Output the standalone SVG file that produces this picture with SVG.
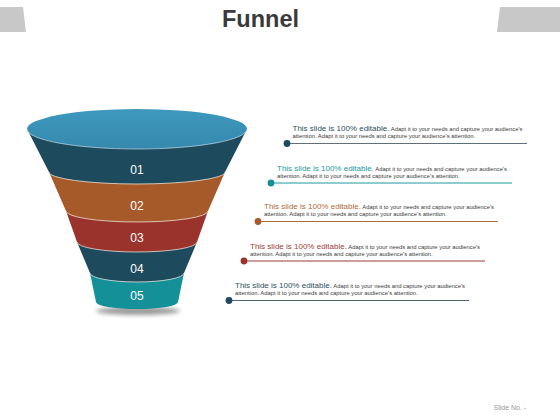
<svg xmlns="http://www.w3.org/2000/svg" width="560" height="420" viewBox="0 0 560 420">
<style>
text{font-family:"Liberation Sans",Arial,sans-serif}
.num{fill:#fff;font-size:12px;text-anchor:middle}
.sep{fill:none;stroke:#f2e6dc;stroke-width:0.9;stroke-opacity:0.85}
.head{font-size:8px}
.small{font-size:5.85px;fill:#3a3a3a}
.lead{stroke-width:1;fill:none}
</style>
<defs>
<filter id="blur" x="-50%" y="-200%" width="200%" height="500%"><feGaussianBlur stdDeviation="2"/></filter>
<linearGradient id="topg" x1="0" y1="0" x2="0" y2="1"><stop offset="0" stop-color="#3e98bd"/><stop offset="1" stop-color="#3589ae"/></linearGradient>
</defs>
<rect width="560" height="420" fill="#fff"/>
<g id="header">
<polygon points="0,7 23,7 26,32 0,32" fill="#c8c8c8"/>
<polygon points="500,7 560,7 560,32 497,32" fill="#c8c8c8"/>
<text x="260.5" y="27" font-size="23.5" font-weight="bold" fill="#3a3a3a" text-anchor="middle">Funnel</text>
</g>
<g id="funnel">
<ellipse cx="138" cy="311" rx="42" ry="4" fill="#9a9a9a" filter="url(#blur)"/>
<g id="band5"><path d="M90,273 L184,273 L178,302 A41,7 0 0 1 96,302 Z" fill="#149099"/><text class="num" x="137" y="300">05</text></g>
<g id="band4"><path d="M77,242 L197,242 L184,273 A47,9 0 0 1 90,273 Z" fill="#1d4a5c"/><path class="sep" d="M184,273 A47,9 0 0 1 90,273"/><text class="num" x="137" y="273">04</text></g>
<g id="band3"><path d="M66,211 L208,211 L197,242 A60,10 0 0 1 77,242 Z" fill="#9a332b"/><path class="sep" d="M197,242 A60,10 0 0 1 77,242"/><text class="num" x="137" y="242">03</text></g>
<g id="band2"><path d="M49,172 L225,172 L208,211 A71,11 0 0 1 66,211 Z" fill="#a65a2a"/><path class="sep" d="M208,211 A71,11 0 0 1 66,211"/><text class="num" x="137" y="210">02</text></g>
<g id="band1"><path d="M27,129 L247,129 L225,172 A88,12 0 0 1 49,172 Z" fill="#1d4a5c"/><path class="sep" d="M225,172 A88,12 0 0 1 49,172"/><text class="num" x="137" y="174">01</text></g>
<g id="top"><ellipse cx="137" cy="129" rx="110" ry="20" fill="url(#topg)"/><path d="M27,129 A110,20 0 0 0 247,129" fill="none" stroke="#cfe6ef" stroke-width="0.8" stroke-opacity="0.8"/></g>
</g>
<g id="connectors">
<line class="lead" x1="287" y1="143.5" x2="527" y2="143.5" stroke="#5d707c"/><circle cx="287" cy="143.5" r="3.4" fill="#1d4a5c"/>
<line class="lead" x1="271" y1="183" x2="512" y2="183" stroke="#1a9aa0"/><circle cx="271" cy="183" r="3.4" fill="#149099"/>
<line class="lead" x1="258" y1="221.5" x2="498" y2="221.5" stroke="#b0703e"/><circle cx="258" cy="221.5" r="3.4" fill="#a65a2a"/>
<line class="lead" x1="244" y1="261" x2="485" y2="261" stroke="#9e3d35"/><circle cx="244" cy="261" r="3.4" fill="#9a332b"/>
<line class="lead" x1="229" y1="300.5" x2="469" y2="300.5" stroke="#4d6672"/><circle cx="229" cy="300.5" r="3.4" fill="#1d4a5c"/>
</g>
<g id="text1">
<text x="292.5" y="131"><tspan class="head" fill="#2d4f60">This slide is 100% editable.</tspan><tspan class="small"> Adapt it to your needs and capture your audience's</tspan></text>
<text class="small" x="292.5" y="138">attention. Adapt it to your needs and capture your audience's attention.</text>
</g>
<g id="text2">
<text x="277" y="170.5"><tspan class="head" fill="#1a9aa0">This slide is 100% editable.</tspan><tspan class="small"> Adapt it to your needs and capture your audience's</tspan></text>
<text class="small" x="277" y="177.5">attention. Adapt it to your needs and capture your audience's attention.</text>
</g>
<g id="text3">
<text x="264" y="209"><tspan class="head" fill="#b06a3a">This slide is 100% editable.</tspan><tspan class="small"> Adapt it to your needs and capture your audience's</tspan></text>
<text class="small" x="264" y="216">attention. Adapt it to your needs and capture your audience's attention.</text>
</g>
<g id="text4">
<text x="250" y="248.5"><tspan class="head" fill="#a0403a">This slide is 100% editable.</tspan><tspan class="small"> Adapt it to your needs and capture your audience's</tspan></text>
<text class="small" x="250" y="255.5">attention. Adapt it to your needs and capture your audience's attention.</text>
</g>
<g id="text5">
<text x="235" y="288"><tspan class="head" fill="#2d4f60">This slide is 100% editable.</tspan><tspan class="small"> Adapt it to your needs and capture your audience's</tspan></text>
<text class="small" x="235" y="295">attention. Adapt it to your needs and capture your audience's attention.</text>
</g>
<g id="footer"><text x="493.5" y="410" font-size="7" fill="#999">Slide No. -</text></g>
</svg>
